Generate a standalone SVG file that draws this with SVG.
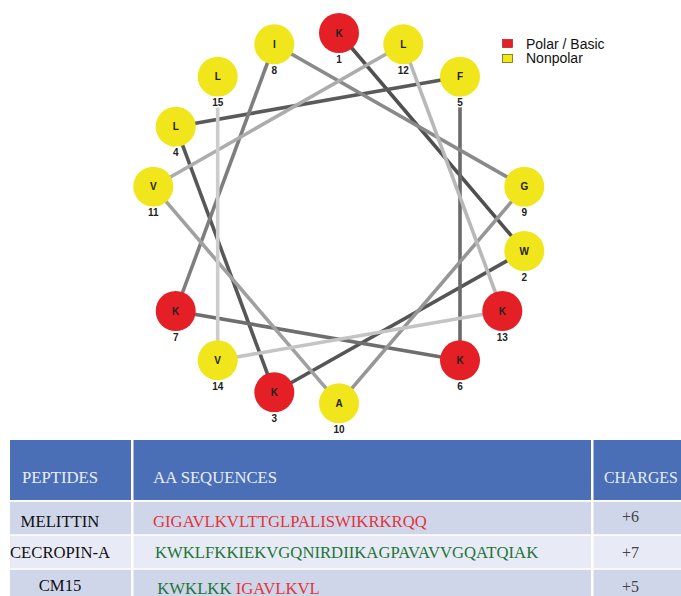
<svg xmlns="http://www.w3.org/2000/svg" width="681" height="596" viewBox="0 0 681 596">
<style>
.e{fill:none;stroke-width:3.6;stroke-linecap:butt}
.red{fill:#e41f26}
.yel{fill:#f1e61b}
.aa{font-family:"Liberation Sans",Arial,sans-serif;font-weight:bold;font-size:10px;fill:#222;text-anchor:middle}
.num{font-family:"Liberation Sans",Arial,sans-serif;font-weight:bold;font-size:10px;fill:#222;text-anchor:middle;stroke:#fff;stroke-width:3;paint-order:stroke}
.lg{font-family:"Liberation Sans",Arial,sans-serif;font-size:14px;fill:#111}
.th{font-family:"Liberation Serif","Times New Roman",serif;font-size:16.7px;fill:#e8edf8}
.td{font-family:"Liberation Serif","Times New Roman",serif;font-size:16.7px;fill:#111}
.ch{font-family:"Liberation Serif","Times New Roman",serif;font-size:16px;fill:#444}
.sr{fill:#e3343a}
.sg{fill:#23753a}
</style>
<rect width="681" height="596" fill="#fff"/>
<g id="connectors">
<line class="e" stroke="#505050" x1="339" y1="33" x2="524.3" y2="251"/>
<line class="e" stroke="#555555" x1="524.3" y1="251" x2="274.3" y2="392.3"/>
<line class="e" stroke="#575757" x1="274.3" y1="392.3" x2="175.7" y2="126.7"/>
<line class="e" stroke="#5a5a5a" x1="175.7" y1="126.7" x2="460" y2="76.7"/>
<line class="e" stroke="#6a6a6a" x1="460" y1="76.7" x2="460" y2="360.3"/>
<line class="e" stroke="#6e6e6e" x1="460" y1="360.3" x2="175.7" y2="311"/>
<line class="e" stroke="#7e7e7e" x1="175.7" y1="311" x2="274.3" y2="44.3"/>
<line class="e" stroke="#8a8a8a" x1="274.3" y1="44.3" x2="524.3" y2="186.7"/>
<line class="e" stroke="#969696" x1="524.3" y1="186.7" x2="339" y2="403.3"/>
<line class="e" stroke="#a0a0a0" x1="339" y1="403.3" x2="153.3" y2="186.7"/>
<line class="e" stroke="#acacac" x1="153.3" y1="186.7" x2="403.3" y2="44.3"/>
<line class="e" stroke="#b8b8b8" x1="403.3" y1="44.3" x2="502.3" y2="311"/>
<line class="e" stroke="#c4c4c4" x1="502.3" y1="311" x2="217.7" y2="360.3"/>
<line class="e" stroke="#cccccc" x1="217.7" y1="360.3" x2="217.7" y2="76.7"/>
</g>
<g id="n1"><circle class="red" cx="339" cy="33" r="20"/><text class="aa" x="339" y="36.6">K</text><text class="num" x="339" y="62.5">1</text></g>
<g id="n2"><circle class="yel" cx="524.3" cy="251" r="20"/><text class="aa" x="524.3" y="254.6">W</text><text class="num" x="524.3" y="280.5">2</text></g>
<g id="n3"><circle class="red" cx="274.3" cy="392.3" r="20"/><text class="aa" x="274.3" y="395.9">K</text><text class="num" x="274.3" y="421.8">3</text></g>
<g id="n4"><circle class="yel" cx="175.7" cy="126.7" r="20"/><text class="aa" x="175.7" y="130.3">L</text><text class="num" x="175.7" y="156.2">4</text></g>
<g id="n5"><circle class="yel" cx="460" cy="76.7" r="20"/><text class="aa" x="460" y="80.3">F</text><text class="num" x="460" y="106.2">5</text></g>
<g id="n6"><circle class="red" cx="460" cy="360.3" r="20"/><text class="aa" x="460" y="363.9">K</text><text class="num" x="460" y="389.8">6</text></g>
<g id="n7"><circle class="red" cx="175.7" cy="311" r="20"/><text class="aa" x="175.7" y="314.6">K</text><text class="num" x="175.7" y="340.5">7</text></g>
<g id="n8"><circle class="yel" cx="274.3" cy="44.3" r="20"/><text class="aa" x="274.3" y="47.9">I</text><text class="num" x="274.3" y="73.8">8</text></g>
<g id="n9"><circle class="yel" cx="524.3" cy="186.7" r="20"/><text class="aa" x="524.3" y="190.3">G</text><text class="num" x="524.3" y="216.2">9</text></g>
<g id="n10"><circle class="yel" cx="339" cy="403.3" r="20"/><text class="aa" x="339" y="406.9">A</text><text class="num" x="339" y="432.8">10</text></g>
<g id="n11"><circle class="yel" cx="153.3" cy="186.7" r="20"/><text class="aa" x="153.3" y="190.3">V</text><text class="num" x="153.3" y="216.2">11</text></g>
<g id="n12"><circle class="yel" cx="403.3" cy="44.3" r="20"/><text class="aa" x="403.3" y="47.9">L</text><text class="num" x="403.3" y="73.8">12</text></g>
<g id="n13"><circle class="red" cx="502.3" cy="311" r="20"/><text class="aa" x="502.3" y="314.6">K</text><text class="num" x="502.3" y="340.5">13</text></g>
<g id="n14"><circle class="yel" cx="217.7" cy="360.3" r="20"/><text class="aa" x="217.7" y="363.9">V</text><text class="num" x="217.7" y="389.8">14</text></g>
<g id="n15"><circle class="yel" cx="217.7" cy="76.7" r="20"/><text class="aa" x="217.7" y="80.3">L</text><text class="num" x="217.7" y="106.2">15</text></g>
<g id="legend">
<rect x="502.5" y="39.5" width="10" height="8" fill="#e41f26" stroke="#b0181d" stroke-width="0.7"/>
<text class="lg" x="526" y="48.5">Polar / Basic</text>
<rect x="502.5" y="54.5" width="10" height="8" fill="#f1e61b" stroke="#6f6a10" stroke-width="0.8"/>
<text class="lg" x="526" y="63">Nonpolar</text>
</g>
<g id="table">
<rect x="10" y="440" width="121" height="60" fill="#4a6fb6"/>
<rect x="133.5" y="440" width="457.5" height="60" fill="#4a6fb6"/>
<rect x="593.5" y="440" width="87.5" height="60" fill="#4a6fb6"/>
<rect x="10" y="501.8" width="121" height="32.5" fill="#cfd6ea"/>
<rect x="133.5" y="501.8" width="457.5" height="32.5" fill="#cfd6ea"/>
<rect x="593.5" y="501.8" width="87.5" height="32.5" fill="#cfd6ea"/>
<rect x="10" y="535.8" width="121" height="32.5" fill="#e8ebf5"/>
<rect x="133.5" y="535.8" width="457.5" height="32.5" fill="#e8ebf5"/>
<rect x="593.5" y="535.8" width="87.5" height="32.5" fill="#e8ebf5"/>
<rect x="10" y="569.8" width="121" height="26.2" fill="#cfd6ea"/>
<rect x="133.5" y="569.8" width="457.5" height="26.2" fill="#cfd6ea"/>
<rect x="593.5" y="569.8" width="87.5" height="26.2" fill="#cfd6ea"/>
<text class="th" x="60" y="482.7" text-anchor="middle">PEPTIDES</text>
<text class="th" x="153.3" y="482.7">AA SEQUENCES</text>
<text class="th" x="604" y="482.7" style="font-size:15.8px">CHARGES</text>
<text class="td" x="60" y="526.7" text-anchor="middle">MELITTIN</text>
<text class="td" x="60" y="558.3" text-anchor="middle">CECROPIN-A</text>
<text class="td" x="60" y="591" text-anchor="middle">CM15</text>
<text class="td sr" x="153" y="526.7">GIGAVLKVLTTGLPALISWIKRKRQQ</text>
<text class="td sg" x="155" y="558.3">KWKLFKKIEKVGQNIRDIIKAGPAVAVVGQATQIAK</text>
<text class="td" x="157.3" y="593.5"><tspan class="sg">KWKLKK</tspan> <tspan class="sr">IGAVLKVL</tspan></text>
<text class="ch" x="622" y="522.3">+6</text>
<text class="ch" x="622" y="558.3">+7</text>
<text class="ch" x="622" y="592.3">+5</text>
</g>
</svg>
